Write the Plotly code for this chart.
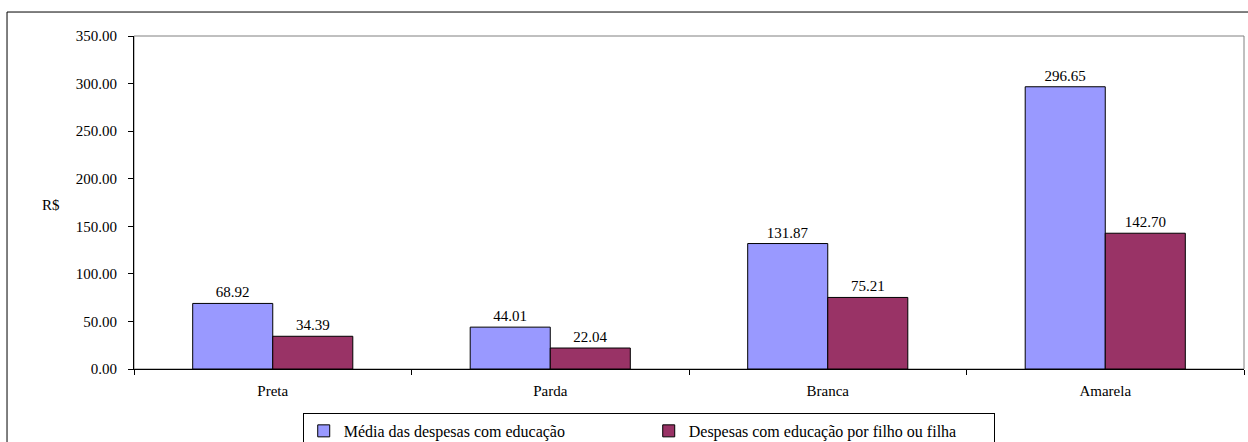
import plotly.graph_objects as go

# Categories and values (R$)
categorias = ["Preta", "Parda", "Branca", "Amarela"]
media_despesas = [68.92, 44.01, 131.87, 296.65]
despesas_por_filho = [34.39, 22.04, 75.21, 142.70]
nome_media = "Média das despesas com educação"
nome_filho = "Despesas com educação por filho ou filha"
y_ticks = [0, 50, 100, 150, 200, 250, 300, 350]

FONT = "'Liberation Serif', 'Times New Roman', 'DejaVu Serif', serif"

fig = go.Figure()
fig.add_trace(go.Bar(
    x=categorias, y=media_despesas, name=nome_media,
    marker=dict(color="#9999FF", line=dict(color="black", width=1)),
    text=[f"{v:.2f}" for v in media_despesas], textposition="outside",
    textfont=dict(family=FONT, size=15, color="black"), cliponaxis=False,
))
fig.add_trace(go.Bar(
    x=categorias, y=despesas_por_filho, name=nome_filho,
    marker=dict(color="#993366", line=dict(color="black", width=1)),
    text=[f"{v:.2f}" for v in despesas_por_filho], textposition="outside",
    textfont=dict(family=FONT, size=15, color="black"), cliponaxis=False,
))

fig.update_layout(
    width=1248, height=442,
    margin=dict(l=134, r=4, t=36, b=73, autoexpand=False),
    paper_bgcolor="white", plot_bgcolor="white",
    font=dict(family=FONT, size=15, color="black"),
    barmode="group", bargap=0.423, bargroupgap=0,
    showlegend=True,
    legend=dict(
        orientation="h", x=0.152, xanchor="left", y=-0.132, yanchor="top",
        bordercolor="black", borderwidth=1, bgcolor="white",
        font=dict(family=FONT, size=16, color="black"),
        entrywidth=300, entrywidthmode="pixels", itemwidth=30,
        tracegroupgap=0,
    ),
    xaxis=dict(
        type="category", showline=True, linecolor="black", linewidth=1,
        ticks="outside", tickson="boundaries", ticklen=5, tickcolor="black",
        showgrid=False, zeroline=False, ticklabelstandoff=8,
        tickfont=dict(family=FONT, size=15, color="black"),
    ),
    yaxis=dict(
        range=[0, 350], tickvals=y_ticks, tickformat=".2f",
        showline=True, linecolor="black", linewidth=1,
        ticks="outside", ticklen=5, tickcolor="black",
        showgrid=False, zeroline=False, ticklabelstandoff=8,
        tickfont=dict(family=FONT, size=15, color="black"),
    ),
    shapes=[
        # gray frame of the plot area
        dict(type="rect", xref="paper", yref="paper", x0=0, y0=0, x1=1, y1=1,
             line=dict(color="#808080", width=1), layer="below"),
        # outer chart border
        dict(type="rect", xref="paper", yref="paper",
             x0=-0.1144, y0=-0.3, x1=1.01, y1=1.072,
             line=dict(color="black", width=1), layer="below"),
    ],
    annotations=[
        dict(text="R$", xref="paper", yref="paper", x=-0.085, y=0.4925,
             showarrow=False, font=dict(family=FONT, size=15, color="black")),
    ],
)

fig.write_html("out.html")
